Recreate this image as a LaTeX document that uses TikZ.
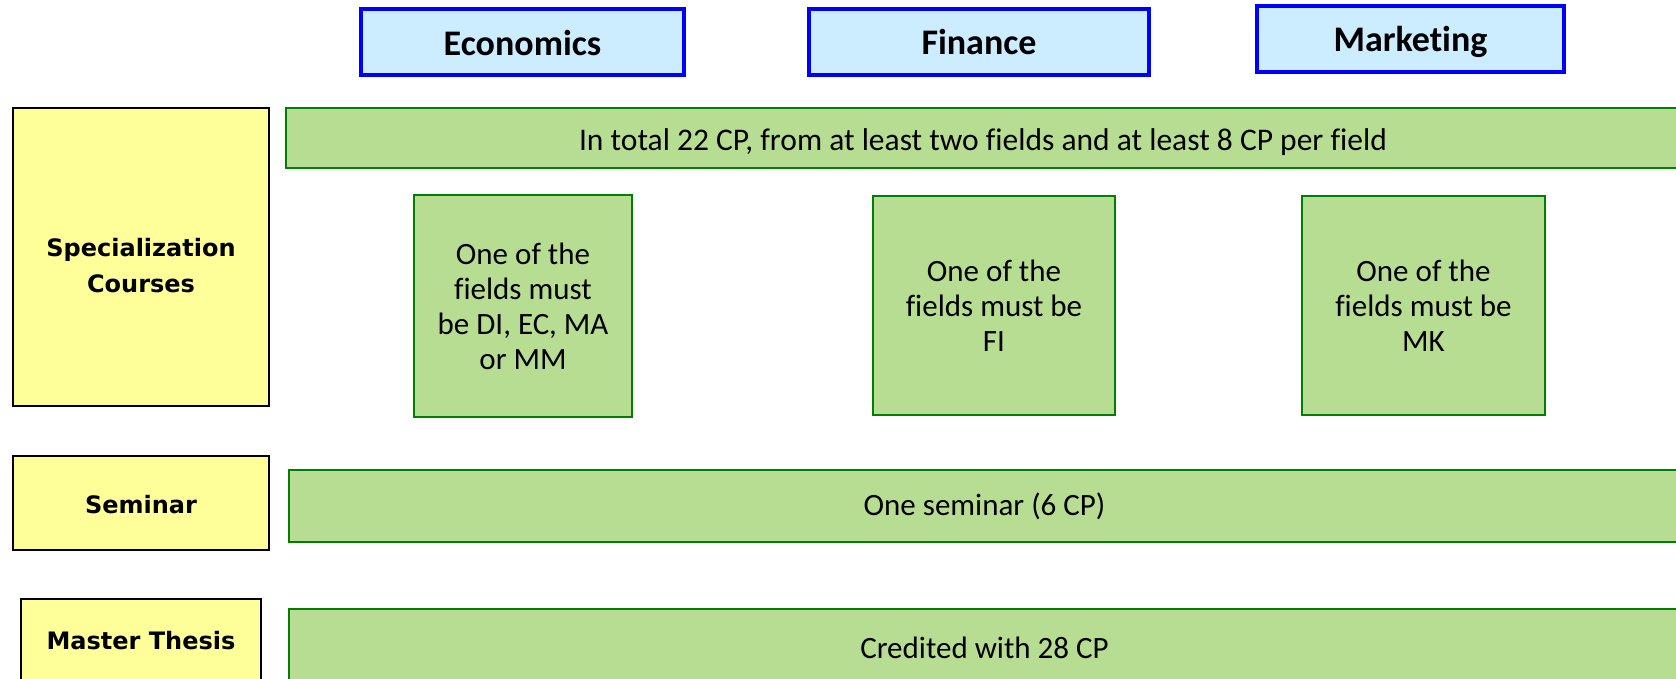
\documentclass[tikz,border=0pt]{standalone}
\usepackage{fontspec}
\setmainfont[Ligatures=NoCommon]{Carlito}
\newfontfamily\labfont{DejaVu Sans}
\definecolor{hdrblue}{HTML}{0000FF}
\definecolor{hdrfill}{HTML}{CCECFF}
\definecolor{labyellow}{HTML}{FFFF99}
\definecolor{grnfill}{HTML}{B7DD93}
\definecolor{grnborder}{HTML}{008000}
\begin{document}
\begin{tikzpicture}[x=1pt,y=-1pt,
  hdr/.style={draw=hdrblue, fill=hdrfill, line width=4pt, inner sep=0pt},
  hdrtext/.style={font=\fontsize{36}{40}\selectfont\bfseries, inner sep=0pt},
  lab/.style={draw=black, fill=labyellow, line width=2.5pt, inner sep=0pt},
  labtext/.style={font=\labfont\fontsize{24}{36}\selectfont\bfseries, align=center, inner sep=0pt},
  grn/.style={draw=grnborder, fill=grnfill, line width=2pt, inner sep=0pt,
    align=center, font=\fontsize{31}{35}\selectfont},
  grntext/.style={inner sep=0pt, font=\fontsize{31.5}{35}\selectfont}]
\useasboundingbox (0,0) rectangle (1676,678);
% headers
\node[hdr, minimum width=323pt, minimum height=66pt,
  label={[hdrtext, yshift=-1pt]center:Economics}] (econ) at (522.5,42) {};
\node[hdr, minimum width=340pt, minimum height=66pt,
  label={[hdrtext]center:Finance}] (fin) at (979,42) {};
\node[hdr, minimum width=307pt, minimum height=66pt,
  label={[hdrtext, yshift=-3pt]center:Marketing}] (mkt) at (1410.5,39) {};
% row labels
\node[lab, minimum width=256pt, minimum height=298pt,
  label={[labtext, yshift=-9pt]center:{Specialization\\Courses}}] (spec) at (141,257) {};
\node[lab, minimum width=256pt, minimum height=94pt,
  label={[labtext, yshift=-2pt]center:Seminar}] (sem) at (141,503) {};
\node[lab, minimum width=240pt, minimum height=84pt,
  label={[labtext]center:Master Thesis}] (mt) at (141,641) {};
% green content
\node[grn, minimum width=1394pt, minimum height=60pt,
  label={[grntext, yshift=-4pt]center:In total 22 CP, from at least two fields and at least 8 CP per field}] (total) at (983,138) {};
\node[grn, minimum width=218pt, minimum height=222pt] (g1) at (523,306)
  {One of the\\fields must\\be DI, EC, MA\\or MM};
\node[grn, minimum width=242pt, minimum height=219pt] (g2) at (994,305.5)
  {One of the\\fields must be\\FI};
\node[grn, minimum width=243pt, minimum height=219pt] (g3) at (1423.5,305.5)
  {One of the\\fields must be\\MK};
\node[grn, minimum width=1391pt, minimum height=72pt] (sembar) at (984.5,506)
  {One seminar (6 CP)};
\node[grn, minimum width=1391pt, minimum height=78pt,
  label={[grntext, font=\fontsize{31}{35}\selectfont]center:Credited with 28 CP}] (mtbar) at (984.5,648) {};
\end{tikzpicture}
\end{document}
